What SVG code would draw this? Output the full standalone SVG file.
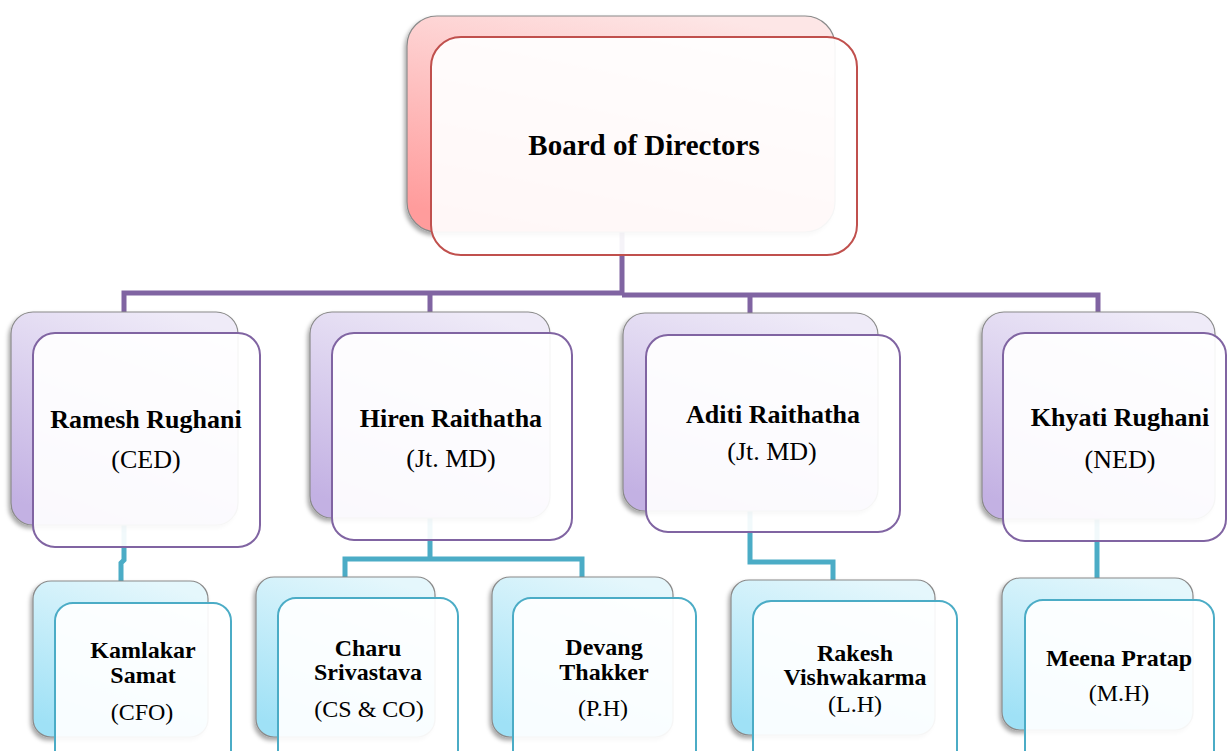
<svg xmlns="http://www.w3.org/2000/svg" width="1227" height="751" viewBox="0 0 1227 751">
<defs>
<linearGradient id="gPink" x1="0.7" y1="0" x2="0.3" y2="1"><stop offset="0" stop-color="#fde6e6"/><stop offset="1" stop-color="#ff9c9c"/></linearGradient>
<linearGradient id="gPurple" x1="0.7" y1="0" x2="0.3" y2="1"><stop offset="0" stop-color="#efebf8"/><stop offset="1" stop-color="#c3b1e3"/></linearGradient>
<linearGradient id="gBlue" x1="0.7" y1="0" x2="0.3" y2="1"><stop offset="0" stop-color="#e5f7fc"/><stop offset="1" stop-color="#9fe1f6"/></linearGradient>
<filter id="sh" x="-10%" y="-10%" width="120%" height="120%"><feDropShadow dx="-2" dy="3" stdDeviation="2" flood-color="#000" flood-opacity="0.35"/></filter>
</defs>
<style>
.back{stroke:#8a8a8a;stroke-width:1.2;filter:url(#sh)}
.bp{fill:url(#gPink)}
.bu{fill:url(#gPurple)}
.bb{fill:url(#gBlue)}
.front{fill:#ffffff;fill-opacity:0.92;stroke-width:2}
.fr{stroke:#c0504d}
.fu{stroke:#8064a2}
.fb{stroke:#4bacc6}
.cu{fill:none;stroke:#8064a2;stroke-width:5}
.cb{fill:none;stroke:#4bacc6;stroke-width:5}
text{font-family:"Liberation Serif","Times New Roman",serif;fill:#000;text-anchor:middle}
.t0{font-size:29px;font-weight:bold}
.n1{font-size:26px;font-weight:bold}
.r1{font-size:26px}
.n2{font-size:24px;font-weight:bold}
.r2{font-size:24px}
</style>
<g id="connectors">
<path class="cu" d="M622 232 V293 M124 312 V293 H622 M622 295 H1098 V312 M430 293 V312 M750 295 V313"/>
<path class="cb" d="M124 525 V560 L121 563 V581"/>
<path class="cb" d="M430 518 V559 M345 577 V559 H582 V577"/>
<path class="cb" d="M750 511 V562 H833 V580"/>
<path class="cb" d="M1097 519 V578"/>
</g>
<g id="board">
<rect class="back bp" x="407" y="16" width="428" height="216" rx="30"/>
<rect class="front fr" x="431" y="37" width="426" height="218" rx="30"/>
<text class="t0" x="644" y="155">Board of Directors</text>
</g>
<g id="ramesh">
<rect class="back bu" x="11" y="312" width="227" height="213" rx="22"/>
<rect class="front fu" x="33" y="333" width="227" height="214" rx="22"/>
<text class="n1" x="146" y="428">Ramesh Rughani</text>
<text class="r1" x="146" y="468">(CED)</text>
</g>
<g id="hiren">
<rect class="back bu" x="310" y="312" width="240" height="206" rx="22"/>
<rect class="front fu" x="332" y="333" width="240" height="207" rx="22"/>
<text class="n1" x="451" y="427">Hiren Raithatha</text>
<text class="r1" x="451" y="467">(Jt. MD)</text>
</g>
<g id="aditi">
<rect class="back bu" x="623" y="313" width="255" height="198" rx="22"/>
<rect class="front fu" x="646" y="335" width="254" height="197" rx="22"/>
<text class="n1" x="773" y="423">Aditi Raithatha</text>
<text class="r1" x="772" y="460">(Jt. MD)</text>
</g>
<g id="khyati">
<rect class="back bu" x="982" y="312" width="233" height="207" rx="22"/>
<rect class="front fu" x="1003" y="333" width="223" height="208" rx="22"/>
<text class="n1" x="1120" y="426">Khyati Rughani</text>
<text class="r1" x="1120" y="468">(NED)</text>
</g>
<g id="kamlakar">
<rect class="back bb" x="33" y="581" width="175" height="156" rx="18"/>
<rect class="front fb" x="55" y="603" width="176" height="170" rx="18"/>
<text class="n2" x="143" y="658">Kamlakar</text>
<text class="n2" x="143" y="683">Samat</text>
<text class="r2" x="142" y="720">(CFO)</text>
</g>
<g id="charu">
<rect class="back bb" x="256" y="577" width="179" height="160" rx="18"/>
<rect class="front fb" x="278" y="598" width="180" height="175" rx="18"/>
<text class="n2" x="368" y="656">Charu</text>
<text class="n2" x="368" y="680">Srivastava</text>
<text class="r2" x="369" y="717">(CS &amp; CO)</text>
</g>
<g id="devang">
<rect class="back bb" x="492" y="577" width="181" height="160" rx="18"/>
<rect class="front fb" x="513" y="598" width="183" height="175" rx="18"/>
<text class="n2" x="604" y="655">Devang</text>
<text class="n2" x="604" y="680">Thakker</text>
<text class="r2" x="603" y="716">(P.H)</text>
</g>
<g id="rakesh">
<rect class="back bb" x="731" y="580" width="204" height="155" rx="18"/>
<rect class="front fb" x="753" y="601" width="204" height="172" rx="18"/>
<text class="n2" x="855" y="661">Rakesh</text>
<text class="n2" x="855" y="685">Vishwakarma</text>
<text class="r2" x="855" y="712">(L.H)</text>
</g>
<g id="meena">
<rect class="back bb" x="1002" y="578" width="191" height="152" rx="18"/>
<rect class="front fb" x="1025" y="600" width="189" height="173" rx="18"/>
<text class="n2" x="1119" y="666">Meena Pratap</text>
<text class="r2" x="1119" y="701">(M.H)</text>
</g>
</svg>
